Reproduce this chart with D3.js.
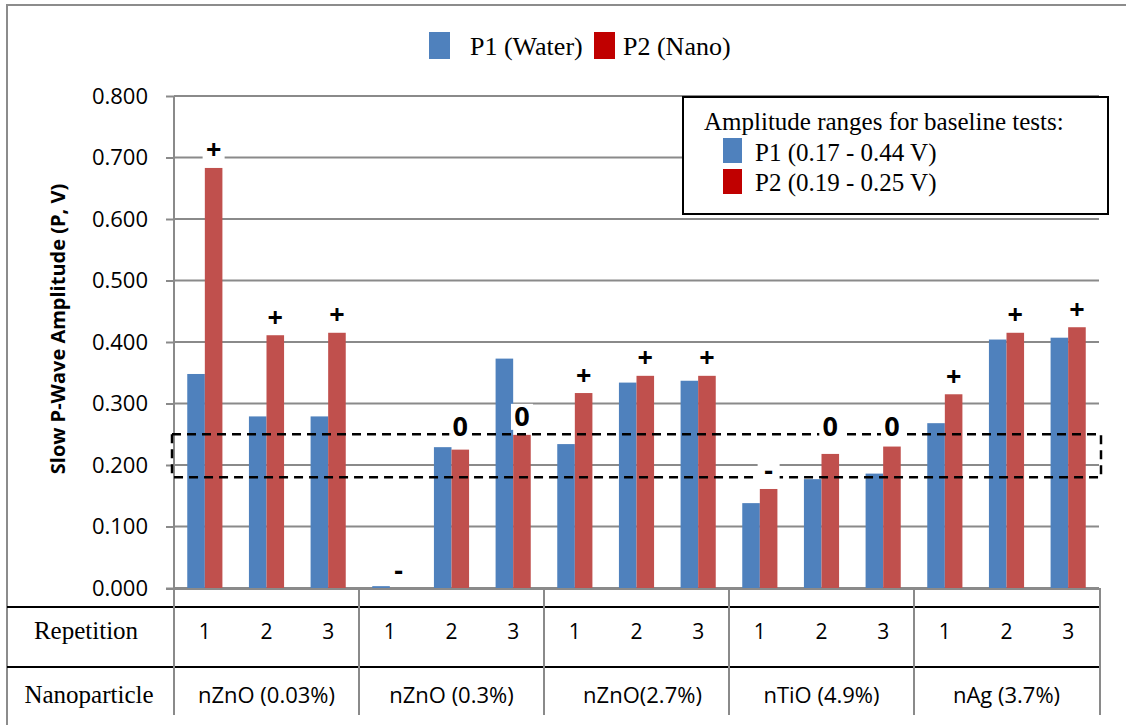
<!DOCTYPE html>
<html>
<head>
<meta charset="utf-8">
<script src="https://cdn.jsdelivr.net/npm/d3@7"></script>
<style>
  html, body { margin: 0; padding: 0; background: #fff; }
  svg { display: block; }
</style>
</head>
<body>
<svg id="chart" width="1126" height="725"></svg>
<script>
// ---------- data ----------
const groups = ["nZnO (0.03%)", "nZnO (0.3%)", "nZnO(2.7%)", "nTiO (4.9%)", "nAg (3.7%)"];
const repetitions = ["1", "2", "3"];
const series = ["P1 (Water)", "P2 (Nano)"];
const p1Water = [0.348, 0.279, 0.279, 0.003, 0.229, 0.373, 0.234, 0.334, 0.337, 0.138, 0.177, 0.186, 0.268, 0.404, 0.407];
const p2Nano  = [0.683, 0.411, 0.415, 0.000, 0.225, 0.249, 0.317, 0.345, 0.345, 0.161, 0.218, 0.230, 0.315, 0.415, 0.424];
const changeLabels = ["+", "+", "+", "-", "0", "0", "+", "+", "+", "-", "0", "0", "+", "+", "+"];
const yTicks = [0, 0.1, 0.2, 0.3, 0.4, 0.5, 0.6, 0.7, 0.8];
const baselineBand = [0.18, 0.25];
const baselineTitle = "Amplitude ranges for baseline tests:";
const baselineRanges = ["P1 (0.17 - 0.44 V)", "P2 (0.19 - 0.25 V)"];
const rowTitles = ["Repetition", "Nanoparticle"];

// ---------- styles ----------
const barColors = ["#4F81BD", "#C0504D"];
const legendColors = ["#4F81BD", "#C00000"];
const gridColor = "#8a8a8a";
const sansFont = "'Open Sans', 'Liberation Sans', sans-serif";
const serifFont = "'Liberation Serif', 'DejaVu Serif', serif";

// ---------- layout ----------
const plot = { left: 174, right: 1099, top: 96, bottom: 588 };
const svg = d3.select("#chart");

// category list
const cats = [];
groups.forEach((g, gi) => repetitions.forEach((r, ri) => cats.push({ g, gi, r, i: gi * repetitions.length + ri })));

const x = d3.scaleBand().domain(cats.map(d => d.i)).range([plot.left, plot.right]).padding(0);
const bw = x.bandwidth();
const x1 = d3.scaleBand().domain(series).range([bw * 0.215, bw * 0.785]).padding(0);
const y = d3.scaleLinear().domain([0, 0.8]).range([plot.bottom, plot.top]);

// outer border
svg.append("rect").attr("x", 7).attr("y", 5).attr("width", 1140).attr("height", 740)
  .attr("fill", "#fff").attr("stroke", "#8c8c8c").attr("stroke-width", 2);

// gridlines + y axis
const yAxis = d3.axisLeft(y).tickValues(yTicks).tickFormat(d3.format(".3f")).tickSize(8).tickPadding(18);
const gY = svg.append("g").attr("transform", `translate(${plot.left},0)`).call(yAxis);
gY.select(".domain").attr("stroke", gridColor).attr("stroke-width", 2)
  .attr("d", `M0,${plot.top}V715`);
gY.selectAll(".tick line").attr("stroke", gridColor).attr("stroke-width", 2);
gY.selectAll(".tick text").attr("font-family", sansFont).attr("font-size", 22).attr("fill", "#000");

svg.append("g").selectAll("line").data(yTicks).join("line")
  .attr("x1", plot.left).attr("x2", plot.right)
  .attr("y1", d => y(d)).attr("y2", d => y(d))
  .attr("stroke", gridColor).attr("stroke-width", 2);

// y axis title
svg.append("text")
  .attr("transform", `translate(57,329) rotate(-90)`)
  .attr("text-anchor", "middle").attr("dominant-baseline", "central")
  .attr("font-family", sansFont).attr("font-weight", "bold").attr("font-size", 20)
  .text("Slow P-Wave Amplitude (P, V)");

// bars
const values = [p1Water, p2Nano];
const barG = svg.append("g");
series.forEach((s, si) => {
  barG.selectAll(".bar" + si).data(cats).join("rect")
    .attr("class", "bar" + si)
    .attr("x", d => x(d.i) + x1(s))
    .attr("width", x1.bandwidth())
    .attr("y", d => y(values[si][d.i]))
    .attr("height", d => y(0) - y(values[si][d.i]))
    .attr("fill", barColors[si]);
});

// baseline dashed band
svg.append("rect")
  .attr("x", 172).attr("width", 1101 - 172)
  .attr("y", y(baselineBand[1])).attr("height", y(baselineBand[0]) - y(baselineBand[1]))
  .attr("fill", "none").attr("stroke", "#000").attr("stroke-width", 2.5)
  .attr("stroke-dasharray", "9,6");

// change labels with white background
const lblG = svg.append("g");
cats.forEach(d => {
  const cx = x(d.i) + x1(series[1]) + x1.bandwidth() / 2;
  let cy = y(p2Nano[d.i]) - 18;
  if (changeLabels[d.i] === "0") cy = Math.min(cy, y(baselineBand[1]) - 8);
  const g = lblG.append("g");
  g.append("rect")
    .attr("x", cx - 11).attr("y", cy - 13).attr("width", 22).attr("height", 26)
    .attr("fill", "#fff");
  g.append("text")
    .attr("x", cx).attr("y", cy + 9.5)
    .attr("text-anchor", "middle")
    .attr("font-family", sansFont).attr("font-weight", "bold").attr("font-size", 27)
    .text(changeLabels[d.i]);
});

// x axis line
svg.append("line").attr("x1", 166).attr("x2", plot.right + 1)
  .attr("y1", plot.bottom + 1).attr("y2", plot.bottom + 1)
  .attr("stroke", gridColor).attr("stroke-width", 2);

// table
const rowY = [607, 667];
svg.append("g").selectAll("line").data(rowY).join("line")
  .attr("x1", 7).attr("x2", plot.right).attr("y1", d => d).attr("y2", d => d)
  .attr("stroke", "#000").attr("stroke-width", 2);
const dividers = d3.range(groups.length + 1).map(k => k === groups.length ? plot.right + 1 : x(k * repetitions.length));
svg.append("g").selectAll("line").data(dividers).join("line")
  .attr("x1", d => d).attr("x2", d => d).attr("y1", plot.bottom).attr("y2", 715)
  .attr("stroke", gridColor).attr("stroke-width", 2);

svg.append("g").selectAll("text").data(cats).join("text")
  .attr("x", d => x(d.i) + bw / 2).attr("y", 631)
  .attr("text-anchor", "middle").attr("dominant-baseline", "central")
  .attr("font-family", sansFont).attr("font-size", 21)
  .text(d => d.r);

svg.append("g").selectAll("text").data(groups).join("text")
  .attr("x", (d, k) => x(k * repetitions.length) + bw * repetitions.length / 2 + (k === 2 ? 6 : 0)).attr("y", 694)
  .attr("text-anchor", "middle").attr("dominant-baseline", "central")
  .attr("font-family", sansFont).attr("font-size", 22)
  .text(d => d);

svg.append("g").selectAll("text").data(rowTitles).join("text")
  .attr("x", (d, k) => [86, 89][k]).attr("y", (d, k) => [639, 703][k])
  .attr("text-anchor", "middle")
  .attr("font-family", serifFont).attr("font-size", 25)
  .text(d => d);

// top legend
const legX = [429, 594];
const lg = svg.append("g").selectAll("g").data(series).join("g");
lg.append("rect").attr("x", (d, k) => legX[k]).attr("y", 32).attr("width", 21).attr("height", 27)
  .attr("fill", (d, k) => legendColors[k]);
lg.append("text").attr("x", (d, k) => legX[k] + 41 - k * 12).attr("y", 55)
  .attr("font-family", serifFont).attr("font-size", 26).text(d => d);

// baseline inset box
const box = svg.append("g");
box.append("rect").attr("x", 683).attr("y", 97).attr("width", 425).attr("height", 117)
  .attr("fill", "#fff").attr("stroke", "#000").attr("stroke-width", 2);
box.append("text").attr("x", 704).attr("y", 130)
  .attr("font-family", serifFont).attr("font-size", 25).text(baselineTitle);
box.selectAll(".item").data(baselineRanges).join("g").attr("class", "item")
  .each(function(d, k) {
    const g = d3.select(this);
    g.append("rect").attr("x", 723).attr("y", 138 + k * 31).attr("width", 19).attr("height", 25)
      .attr("fill", legendColors[k]);
    g.append("text").attr("x", 755).attr("y", 161 + k * 30)
      .attr("font-family", serifFont).attr("font-size", 25).text(d);
  });
</script>
</body>
</html>
